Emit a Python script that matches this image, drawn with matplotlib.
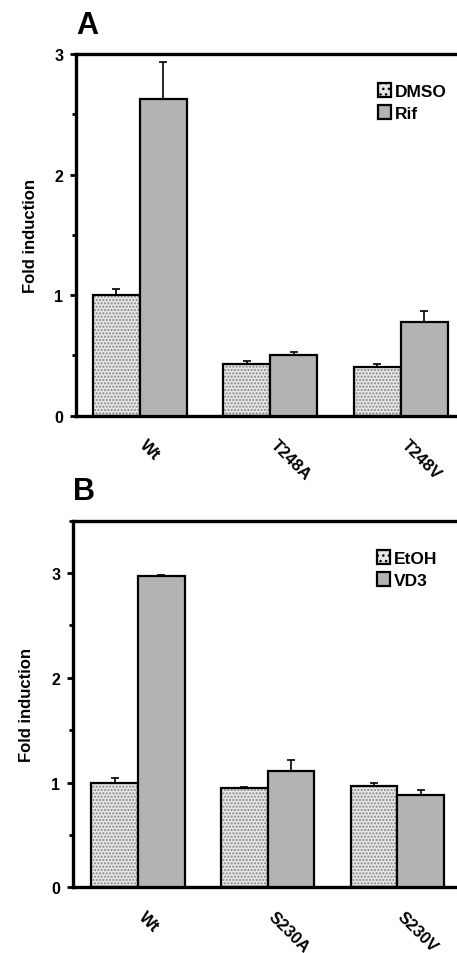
import matplotlib
matplotlib.use('Agg')
import matplotlib.pyplot as plt
import matplotlib.transforms as mtransforms
import numpy as np

plt.rcParams['font.family'] = ['Liberation Sans', 'DejaVu Sans']
plt.rcParams['font.weight'] = 'bold'
plt.rcParams['axes.labelweight'] = 'bold'
plt.rcParams['hatch.linewidth'] = 1.0

# Panel A data
groups_a = ['Wt', 'T248A', 'T248V']
dmso = [1.00, 0.43, 0.40]
dmso_err = [0.05, 0.02, 0.03]
rif = [2.63, 0.50, 0.78]
rif_err = [0.30, 0.03, 0.09]

# Panel B data
groups_b = ['Wt', 'S230A', 'S230V']
etoh = [1.00, 0.95, 0.97]
etoh_err = [0.04, 0.01, 0.03]
vd3 = [2.97, 1.11, 0.885]
vd3_err = [0.01, 0.11, 0.045]

dot_face = '#e6e6e6'
dot_color = '#858585'
solid_face = '#b3b3b3'
width = 0.36


def draw_panel(fig, ax, groups, v1, e1, v2, e2, labels, ymax, xlim, letter):
    x = np.arange(len(groups))
    # dotted bars: texture layer then black outline
    ax.bar(x - width/2, v1, width, color=dot_face, edgecolor=dot_color,
           hatch='.....', linewidth=0, zorder=2)
    ax.bar(x - width/2, v1, width, facecolor='none', edgecolor='black',
           linewidth=1.6, zorder=3)
    ax.bar(x + width/2, v2, width, color=solid_face, edgecolor='black',
           linewidth=1.6, zorder=3)
    ax.errorbar(x - width/2, v1, yerr=[np.zeros(len(v1)), e1], fmt='none',
                ecolor='black', elinewidth=1.2, capsize=3, capthick=1.2, zorder=1)
    ax.errorbar(x + width/2, v2, yerr=[np.zeros(len(v2)), e2], fmt='none',
                ecolor='black', elinewidth=1.2, capsize=3, capthick=1.2, zorder=1)

    ax.set_xlim(*xlim)
    ax.set_ylim(0, ymax)
    ax.set_yticks(range(int(ymax) + 1))
    ax.set_yticks(np.arange(0.5, ymax + 0.01, 1.0), minor=True)
    ax.tick_params(axis='y', which='major', direction='out', length=4, width=2,
                   labelsize=11.5, pad=5)
    ax.tick_params(axis='y', which='minor', direction='out', length=3, width=2)
    ax.set_xticks(x)
    ax.set_xticklabels(groups, rotation=-45, ha='left', rotation_mode='anchor',
                       fontsize=12)
    ax.tick_params(axis='x', length=0, pad=15)
    # nudge rotated labels right so they start at the group centre
    shift = mtransforms.ScaledTranslation(8/100, 0, fig.dpi_scale_trans)
    for lbl in ax.get_xticklabels():
        lbl.set_transform(lbl.get_transform() + shift)
    ax.set_ylabel('Fold induction', fontsize=12, fontweight='bold', labelpad=12)

    for s in ['left', 'bottom', 'top']:
        ax.spines[s].set_linewidth(2.4)
    ax.spines['right'].set_visible(False)

    # legend handles
    h1 = plt.Rectangle((0, 0), 1, 1, facecolor=dot_face, edgecolor='black',
                       hatch='...', linewidth=1.6)
    h2 = plt.Rectangle((0, 0), 1, 1, facecolor=solid_face, edgecolor='black',
                       linewidth=1.6)
    ax.legend([h1, h2], labels, loc='upper left', bbox_to_anchor=(0.775, 0.94),
              frameon=False, fontsize=12.5, handlelength=0.75, handleheight=0.9,
              handletextpad=0.2, labelspacing=0.35, borderaxespad=0)

    ax.text(0.0, 1.04, letter, transform=ax.transAxes, fontsize=22,
            fontweight='bold', ha='left', va='bottom')


fig = plt.figure(figsize=(4.57, 9.54), dpi=100)
ax_a = fig.add_axes([0.1663, 0.5632, 0.8337, 0.3791])
ax_b = fig.add_axes([0.1590, 0.0689, 0.8410, 0.3842])

draw_panel(fig, ax_a, groups_a, dmso, dmso_err, rif, rif_err, ['DMSO', 'Rif'],
           3, (-0.49, 2.43), 'A')
draw_panel(fig, ax_b, groups_b, etoh, etoh_err, vd3, vd3_err, ['EtOH', 'VD3'],
           3.5, (-0.504, 2.46), 'B')

fig.savefig('out.png', dpi=100)
